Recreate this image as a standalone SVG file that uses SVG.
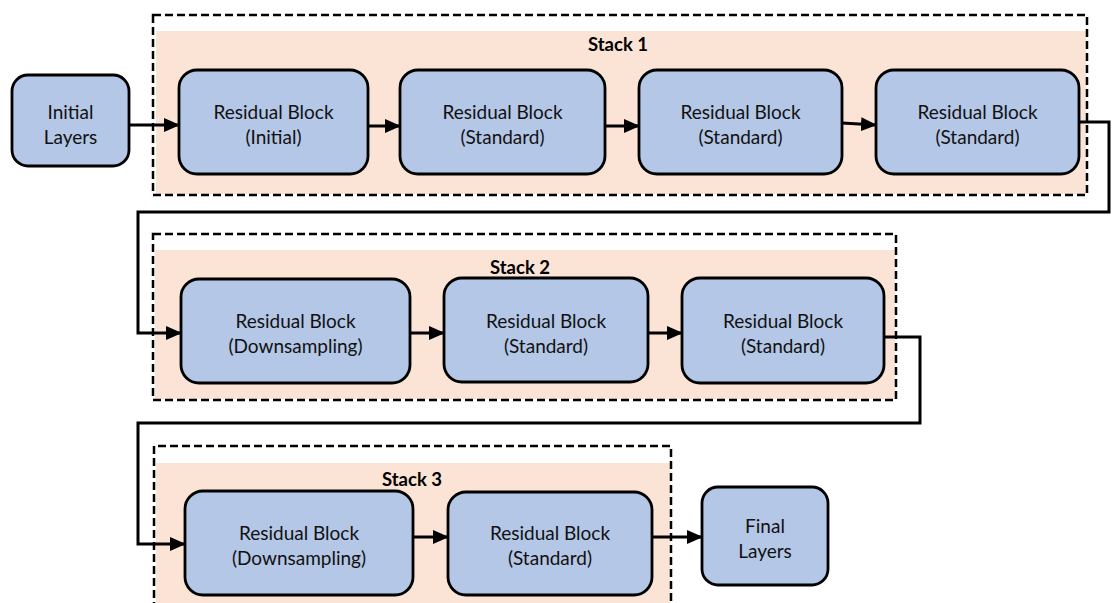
<svg xmlns="http://www.w3.org/2000/svg" width="1113" height="603" viewBox="0 0 1113 603">
<defs>
<style>
.frame{fill:none;stroke:#000;stroke-width:2.5;stroke-dasharray:8 4}
.bg{fill:#FBE3D6}
.node rect{fill:#B4C7E7;stroke:#000;stroke-width:2.8}
.node text,.lbl{font-family:Lato,"Liberation Sans",sans-serif;font-size:19px;fill:#111;text-anchor:middle}
.lbl{font-weight:bold;font-size:18.5px;fill:#000}
.conn{fill:none;stroke:#000;stroke-width:3;marker-end:url(#ah)}
</style>
<marker id="ah" markerWidth="16" markerHeight="14" refX="15" refY="7" orient="auto" markerUnits="userSpaceOnUse">
<path d="M0,0 L16,7 L0,14 Z" fill="#000"/>
</marker>
</defs>
<rect width="1113" height="603" fill="#fff"/>

<g id="stack1">
<rect class="bg" x="156" y="31" width="930" height="163"/>
<rect class="frame" x="153" y="15" width="934" height="180"/>
<text class="lbl" x="618" y="51">Stack 1</text>
</g>
<g id="stack2">
<rect class="bg" x="155" y="250" width="740" height="149"/>
<rect class="frame" x="153" y="234" width="743" height="166"/>
<text class="lbl" x="520" y="274">Stack 2</text>
</g>
<g id="stack3">
<rect class="bg" x="156" y="463" width="514" height="145"/>
<path class="frame" d="M154,610 V446 H671 V610"/>
<text class="lbl" x="412" y="486">Stack 3</text>
</g>

<g id="connectors">
<path class="conn" d="M129,125 H179"/>
<path class="conn" d="M368,126 H400"/>
<path class="conn" d="M605,126 H639"/>
<path class="conn" d="M842,123 L876,125"/>
<path class="conn" d="M1079,122 H1109 V212 H138 V333 H181"/>
<path class="conn" d="M410,333 H444"/>
<path class="conn" d="M648,333 H682"/>
<path class="conn" d="M884,337 H920 V423 H138 V544 H185"/>
<path class="conn" d="M413,537 H448"/>
<path class="conn" d="M652,537 H702"/>
</g>

<g id="initial-layers" class="node">
<rect x="12" y="75" width="117" height="91" rx="16"/>
<text x="70.5" y="119">Initial</text>
<text x="70.5" y="144">Layers</text>
</g>
<g id="rb1" class="node">
<rect x="179" y="70" width="189" height="104" rx="18"/>
<text x="273.5" y="119">Residual Block</text>
<text x="273.5" y="144">(Initial)</text>
</g>
<g id="rb2" class="node">
<rect x="400" y="70" width="205" height="104" rx="18"/>
<text x="502.5" y="119">Residual Block</text>
<text x="502.5" y="144">(Standard)</text>
</g>
<g id="rb3" class="node">
<rect x="639" y="70" width="203" height="104" rx="18"/>
<text x="740.5" y="119">Residual Block</text>
<text x="740.5" y="144">(Standard)</text>
</g>
<g id="rb4" class="node">
<rect x="876" y="70" width="203" height="104" rx="18"/>
<text x="977.5" y="119">Residual Block</text>
<text x="977.5" y="144">(Standard)</text>
</g>
<g id="rb5" class="node">
<rect x="181" y="279" width="229" height="104" rx="18"/>
<text x="295.5" y="328">Residual Block</text>
<text x="295.5" y="353">(Downsampling)</text>
</g>
<g id="rb6" class="node">
<rect x="444" y="278" width="204" height="104" rx="18"/>
<text x="546" y="328">Residual Block</text>
<text x="546" y="353">(Standard)</text>
</g>
<g id="rb7" class="node">
<rect x="682" y="278" width="202" height="105" rx="18"/>
<text x="783" y="328">Residual Block</text>
<text x="783" y="353">(Standard)</text>
</g>
<g id="rb8" class="node">
<rect x="185" y="491" width="228" height="104" rx="18"/>
<text x="299" y="540">Residual Block</text>
<text x="299" y="565">(Downsampling)</text>
</g>
<g id="rb9" class="node">
<rect x="448" y="492" width="204" height="103" rx="18"/>
<text x="550" y="540">Residual Block</text>
<text x="550" y="565">(Standard)</text>
</g>
<g id="final-layers" class="node">
<rect x="702" y="487" width="126" height="98" rx="16"/>
<text x="765" y="533">Final</text>
<text x="765" y="558">Layers</text>
</g>
</svg>
